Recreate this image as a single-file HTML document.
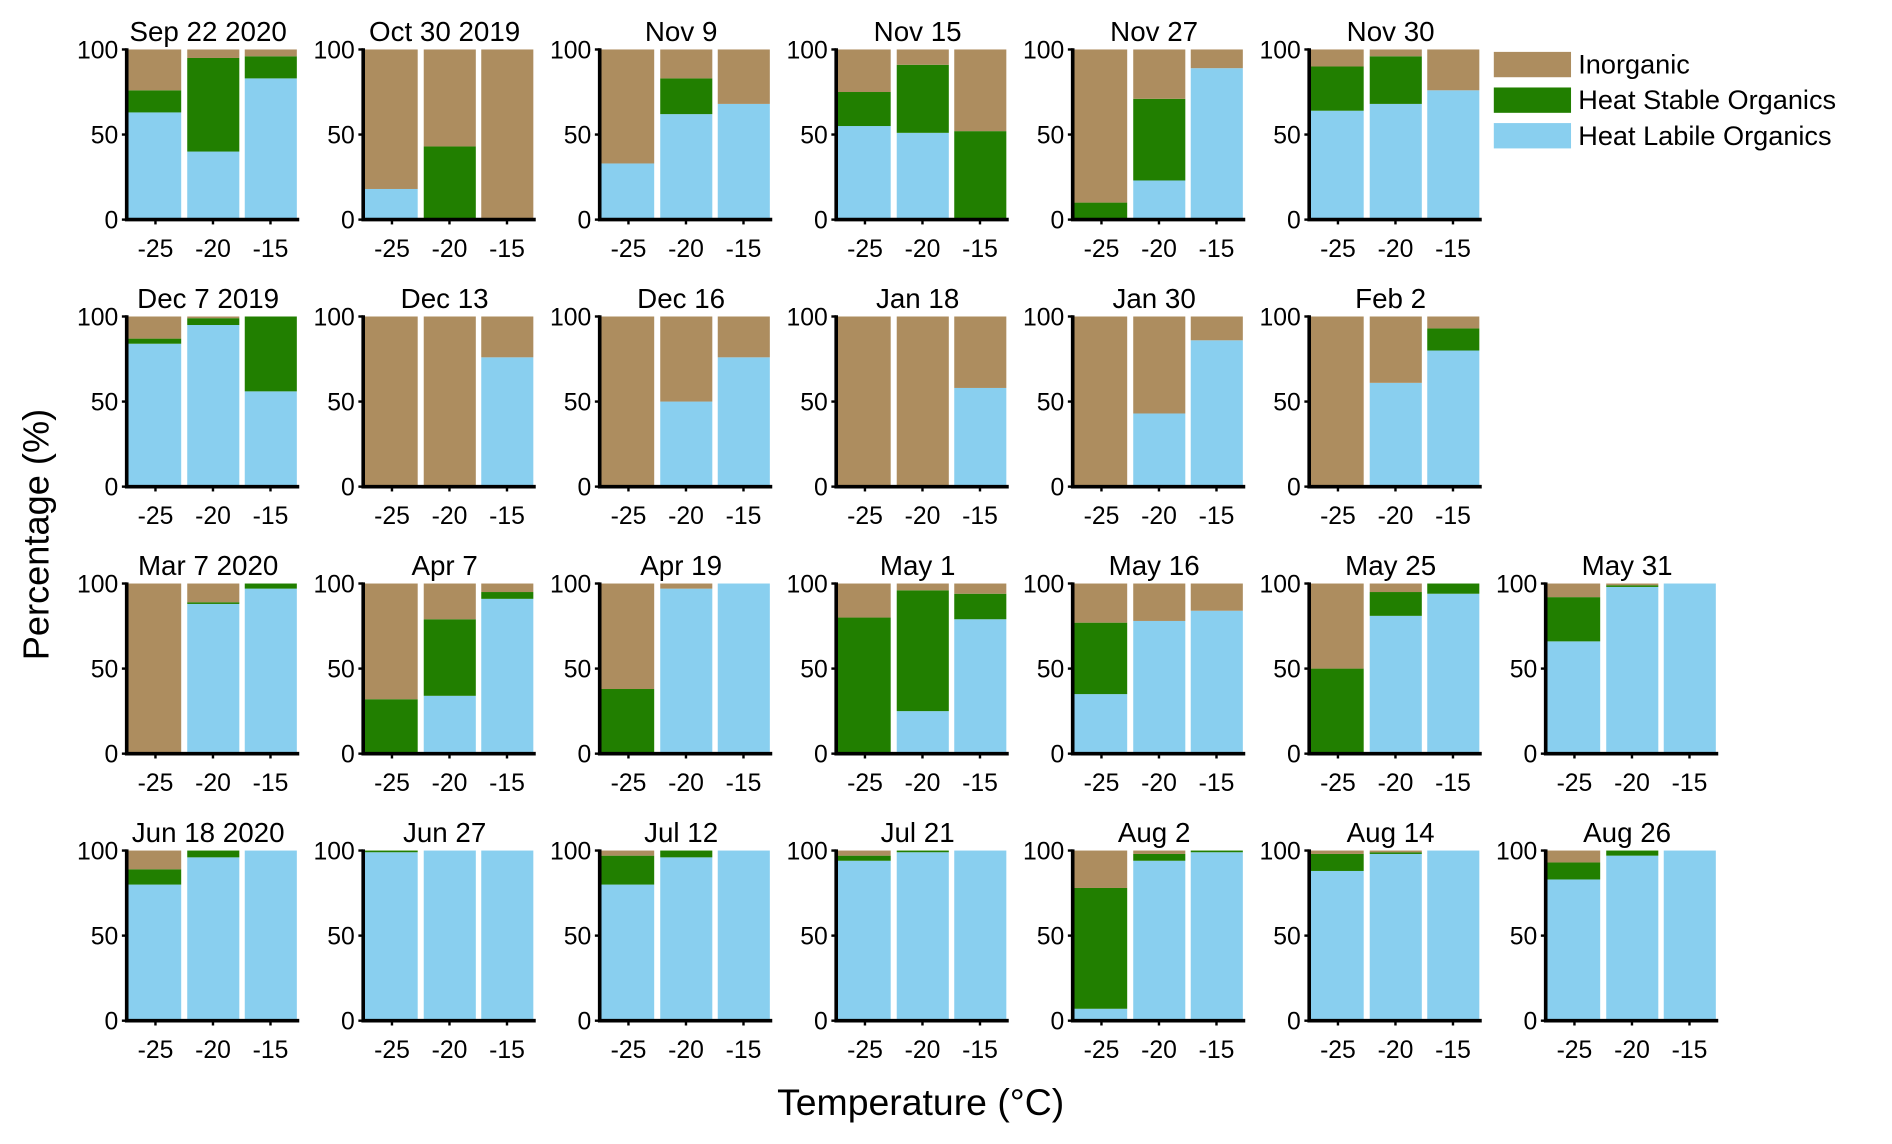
<!DOCTYPE html>
<html><head><meta charset="utf-8"><style>
html,body{margin:0;padding:0;background:#fff;}
svg{display:block;font-family:"Liberation Sans",Arial,sans-serif;}
</style></head><body>
<svg id="chart" width="1892" height="1144" viewBox="0 0 1568 948.1" xmlns="http://www.w3.org/2000/svg"></svg>
<script>
const titles = ["Sep 22 2020","Oct 30 2019","Nov 9","Nov 15","Nov 27","Nov 30",
"Dec 7 2019","Dec 13","Dec 16","Jan 18","Jan 30","Feb 2",
"Mar 7 2020","Apr 7","Apr 19","May 1","May 16","May 25","May 31",
"Jun 18 2020","Jun 27","Jul 12","Jul 21","Aug 2","Aug 14","Aug 26"];
const rowCounts = [6,6,7,7];
const categories = ["-25","-20","-15"];
const yTicks = [0,50,100];
// heat labile organics (%) per panel per temperature
const labile = [
[63,40,83],[18,0,0],[33,62,68],[55,51,0],[0,23,89],[64,68,76],
[84,95,56],[0,0,76],[0,50,76],[0,0,58],[0,43,86],[0,61,80],
[0,88,97],[0,34,91],[0,97,100],[0,25,79],[35,78,84],[0,81,94],[66,98,100],
[80,96,100],[99,100,100],[80,96,100],[94,99,100],[7,94,99],[88,98,100],[83,97,100]];
// heat stable organics (%)
const stable = [
[13,55,13],[0,43,0],[0,21,0],[20,40,52],[10,48,0],[26,28,0],
[3,4,44],[0,0,0],[0,0,0],[0,0,0],[0,0,0],[0,0,13],
[0,1,3],[32,45,4],[38,0,0],[80,71,15],[42,0,0],[50,14,6],[26,1,0],
[9,4,0],[1,0,0],[17,4,0],[3,1,0],[71,4,1],[10,1,0],[10,3,0]];
const COL = {inorg:"#AD8D5F", stable:"#217F00", labile:"#89CFEF"};
const svg = document.getElementById('chart');
const NS = "http://www.w3.org/2000/svg";
function mk(tag, attrs, parent){const e=document.createElementNS(NS,tag);for(const k in attrs)e.setAttribute(k,attrs[k]);(parent||svg).appendChild(e);return e;}
const PW = 143, PH = 141;
let idx = 0;
rowCounts.forEach((n,r)=>{
  for(let c=0;c<n;c++){
    const i = idx++;
    const x0 = 105 + c*196, y0 = 41 + r*221.3;
    const g = mk('g',{});
    
    
    const ys = v => y0 + PH - v/100*PH;
    const band = PW/3;
    const xs = k => x0 + k*band;
    categories.forEach((cat,k)=>{
      const L = labile[i][k], S = stable[i][k], I = 100 - L - S;
      const bx = xs(k) + (k===0?0.5:2.5), bw = band - (k===0?3:4.5);
      const segs = [["labile",0,L],["stable",L,S],["inorg",L+S,I]];
      segs.forEach(([key,b,h])=>{
        if(h<=0) return;
        const rct = mk('rect',{x:bx,y:ys(b+h),width:bw,height:ys(b)-ys(b+h),fill:COL[key]},g);
        
        
      });
      const tk = mk('line',{x1:xs(k)+band/2,x2:xs(k)+band/2,y1:y0+PH,y2:y0+PH+4,stroke:'#000','stroke-width':2},g);
      
      
      const tl = mk('text',{x:xs(k)+band/2,y:y0+PH+31,'text-anchor':'middle','font-size':20.5},g);
      tl.textContent = cat;
      
      
    });
    yTicks.forEach(t=>{
      const yl = mk('text',{x:x0-7,y:ys(t)+7.5,'text-anchor':'end','font-size':20.5},g);
      yl.textContent = t;
      
      
      const yt = mk('line',{x1:x0-4,x2:x0,y1:ys(t),y2:ys(t),stroke:'#000','stroke-width':2},g);
      
      
    });
    const ax = mk('path',{d:`M${x0},${y0-1} V${y0+PH} H${x0+PW}`,fill:'none',stroke:'#000','stroke-width':3},g);
    
    
    const tt = mk('text',{x:x0+PW/2-4,y:y0-7,'text-anchor':'middle','font-size':23},g);
    tt.textContent = titles[i];
    
    
  }
});
const legendItems = [["Inorganic","inorg"],["Heat Stable Organics","stable"],["Heat Labile Organics","labile"]];
legendItems.forEach(([lab,key],j)=>{
  const y = 43 + j*29.5;
  const sw = mk('rect',{x:1238,y:y,width:64,height:21,fill:COL[key]});
  
  
  const t = mk('text',{x:1308,y:y+18,'font-size':22.5});
  t.textContent = lab;
  
  
});
const yt = mk('text',{x:0,y:0,'text-anchor':'middle','font-size':30,transform:'translate(40,443) rotate(-90)'});
yt.textContent = "Percentage (%)";


const xt = mk('text',{x:763,y:924,'text-anchor':'middle','font-size':31});
xt.textContent = "Temperature (°C)";


</script>
</body></html>
